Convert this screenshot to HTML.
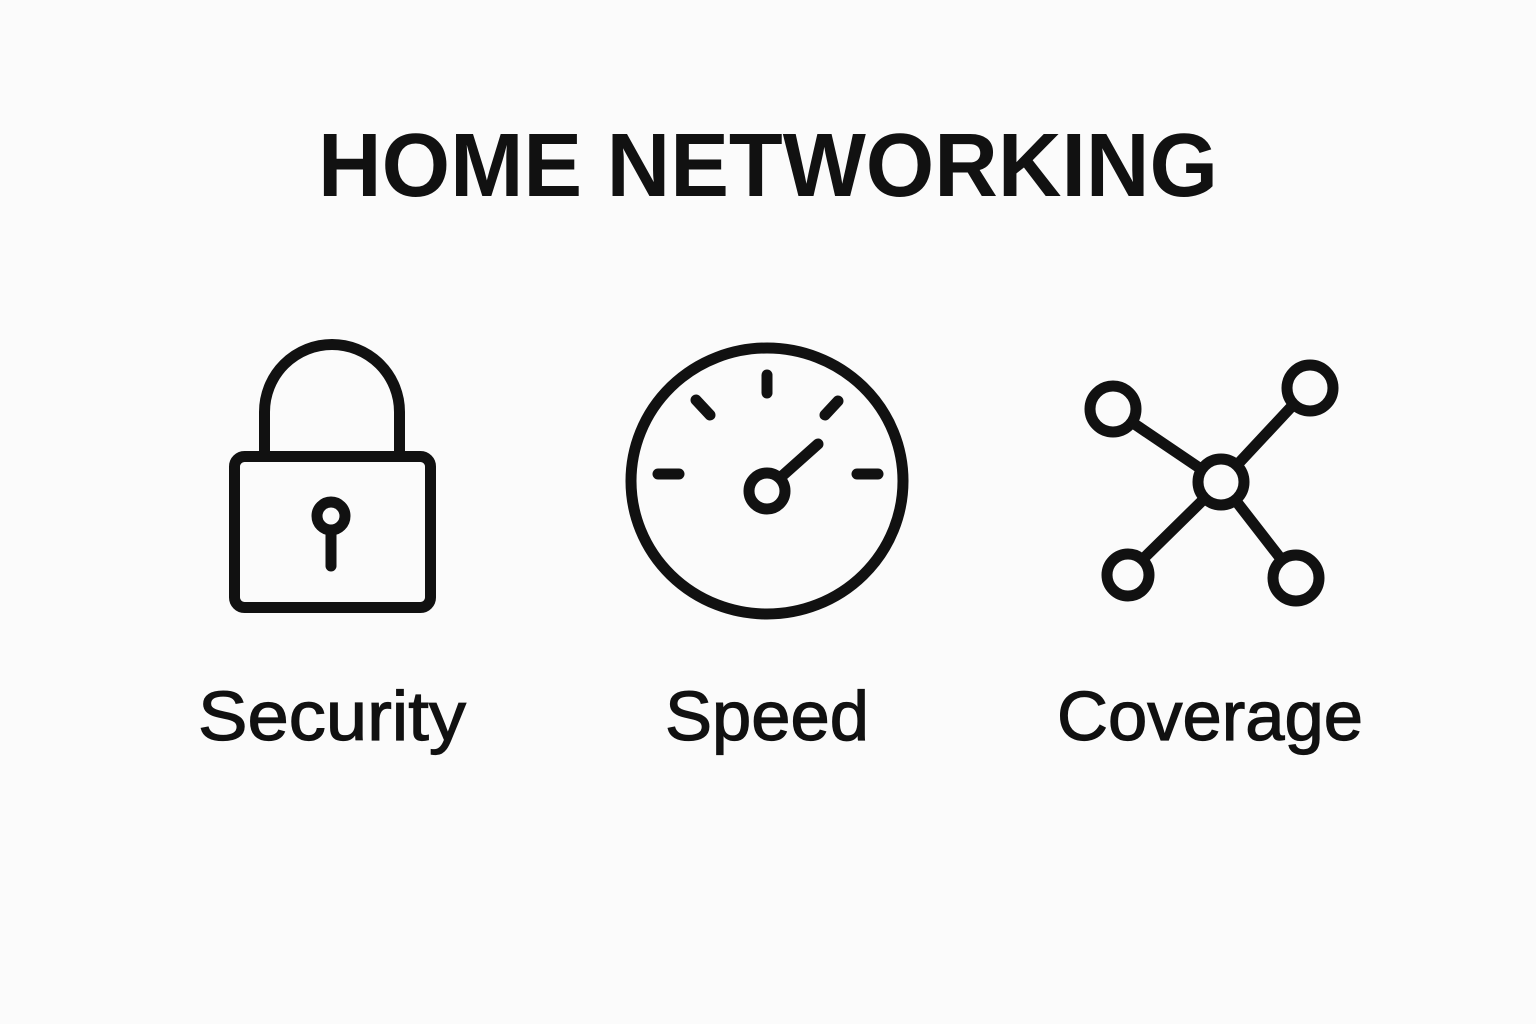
<!DOCTYPE html>
<html><head><meta charset="utf-8"><style>
html,body{margin:0;padding:0;background:#fbfbfb;}
svg{display:block;}
</style></head><body>
<svg width="1536" height="1024" viewBox="0 0 1536 1024" xmlns="http://www.w3.org/2000/svg">
<rect width="1536" height="1024" fill="#fbfbfb"/>
<text x="318" y="196" font-family="Liberation Sans, sans-serif" font-weight="bold" font-size="90" textLength="900" lengthAdjust="spacingAndGlyphs" fill="#111">HOME NETWORKING</text>
<g fill="none" stroke="#111" stroke-width="11" stroke-linecap="round" stroke-linejoin="round">
<!-- lock -->
<path d="M264.5 451 V412 A67.5 67.5 0 0 1 399.5 412 V451"/>
<rect x="234.5" y="456.5" width="196" height="151" rx="10"/>
<circle cx="331" cy="516" r="14"/>
<line x1="331" y1="531" x2="331" y2="566"/>
<!-- gauge -->
<ellipse cx="767" cy="481" rx="136" ry="133"/>
<line x1="767" y1="375" x2="767" y2="393"/>
<line x1="658" y1="474" x2="679" y2="474"/>
<line x1="857" y1="474" x2="878" y2="474"/>
<line x1="696" y1="400" x2="710" y2="415"/>
<line x1="838" y1="401" x2="825" y2="415"/>
<circle cx="767" cy="491" r="18"/>
<line x1="781" y1="477" x2="818" y2="444"/>
<!-- network -->
<circle cx="1221" cy="482" r="23"/>
<circle cx="1113" cy="409" r="23"/>
<circle cx="1310" cy="388" r="23"/>
<circle cx="1128" cy="575" r="21"/>
<circle cx="1296" cy="578" r="23"/>
<line x1="1133" y1="423" x2="1201" y2="469"/>
<line x1="1293" y1="405" x2="1237" y2="465"/>
<line x1="1143" y1="559" x2="1204" y2="499"/>
<line x1="1236" y1="501" x2="1281" y2="559"/>
</g>
<g font-family="Liberation Sans, sans-serif" font-size="70" fill="#111" stroke="#111" stroke-width="1.2">
<text x="198" y="740" textLength="268" lengthAdjust="spacingAndGlyphs">Security</text>
<text x="665" y="740" textLength="204" lengthAdjust="spacingAndGlyphs">Speed</text>
<text x="1057" y="740" textLength="306" lengthAdjust="spacingAndGlyphs">Coverage</text>
</g>
</svg>
</body></html>
